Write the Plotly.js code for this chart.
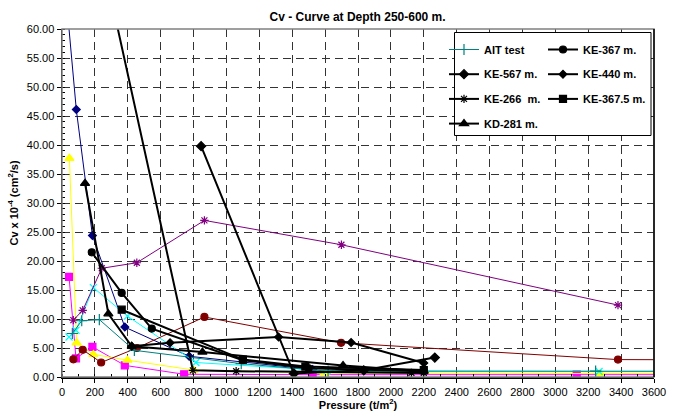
<!DOCTYPE html>
<html>
<head>
<meta charset="utf-8">
<script src="https://cdn.plot.ly/plotly-3.0.1.min.js"></script>
<style>html,body{margin:0;padding:0;background:#fff}#chart{width:676px;height:411px}</style>
</head>
<body>
<div id="chart"></div>
<script>
// ---- data ----
const navyX = [30, 87, 185, 382, 773, 1524];
const navyY = [64, 46.1, 24.4, 8.6, 3.57, 1.3];
const magentaX = [43, 85, 185, 382, 743, 1524, 3130, 6000];
const magentaY = [17.25, 3.2, 5.2, 2.0, 0.47, 0.4, 0.4, 0.4];
const yellowX = [45, 89, 191, 398, 800, 1597, 3272, 6000];
const yellowY = [37.7, 5.9, 3.9, 2.9, 1.2, 0.7, 0.6, 0.6];
const cyanX = [43, 85, 191, 398, 814, 1612, 3266, 6000];
const cyanY = [6.9, 8.06, 15.4, 10.5, 2.5, 1.1, 0.95, 0.95];
const purpleX = [69, 126, 242, 455, 866, 1699, 3381];
const purpleY = [9.8, 11.5, 18.75, 19.7, 27.0, 22.8, 12.4];
const darkredX = [69, 126, 238, 455, 866, 1697, 3381, 6000];
const darkredY = [3.05, 4.7, 2.5, 5.0, 10.35, 5.9, 3.0, 2.85];
const aitX = [63, 120, 227, 440, 1090, 1618, 3245, 6000];
const aitY = [7.5, 9.7, 9.9, 4.6, 2.3, 1.0, 1.0, 1.0];

const ke367X = [181, 363, 546, 1100, 1500, 2200];
const ke367Y = [21.5, 14.5, 8.35, 2.9, 1.5, 1.0];
const ke567X = [846, 1410, 1835, 2267];
const ke567Y = [39.8, 0.6, 1.15, 3.35];
const ke440X = [424, 657, 1317, 1758, 2200];
const ke440Y = [5.3, 5.9, 6.9, 5.95, 2.4];
const ke266X = [200, 796, 1059, 2125, 2200];
const ke266Y = [78, 1.15, 1.0, 0.7, 0.7];
const ke3675X = [363, 1100, 1480, 2200];
const ke3675Y = [11.6, 3.0, 1.8, 1.2];
const kd281X = [140, 282, 424, 854, 1709, 2200];
const kd281Y = [33.4, 10.9, 5.3, 4.3, 2.0, 1.0];

const seriesNames = ["AIT test", "KE-367 m.", "KE-567 m.", "KE-440 m.", "KE-266  m.", "KE-367.5 m.", "KD-281 m."];
const xTickVals = [0,200,400,600,800,1000,1200,1400,1600,1800,2000,2200,2400,2600,2800,3000,3200,3400,3600];

function colored(x, y, color, symbol, size) {
  return {x: x, y: y, type: 'scatter', mode: 'lines+markers', showlegend: false,
    line: {color: color, width: 1},
    marker: {symbol: symbol, size: size, color: color, line: {color: color, width: 1.2}}};
}
function black(x, y, name, symbol, size, legendId, group) {
  return {x: x, y: y, type: 'scatter', mode: 'lines+markers', name: name,
    legend: legendId, legendgroup: group,
    line: {color: '#000', width: 2},
    marker: {symbol: symbol, size: size, color: '#000', line: {color: '#000', width: 1.2}}};
}

const traces = [
  colored(navyX, navyY, '#000080', 'diamond', 6),
  colored(magentaX, magentaY, '#FF00FF', 'square', 7),
  colored(yellowX, yellowY, '#FFFF00', 'triangle-up', 8),
  colored(cyanX, cyanY, '#00FFFF', 'x-thin-open', 7),
  colored(purpleX, purpleY, '#800080', 'asterisk-open', 7),
  colored(darkredX, darkredY, '#800000', 'circle', 7),
  Object.assign(colored(aitX, aitY, '#008080', 'cross-thin-open', 8), {name: seriesNames[0], showlegend: true, legend: 'legend', legendgroup: 'g1'}),
  black(ke367X, ke367Y, seriesNames[1], 'circle', 7, 'legend2', 'h1'),
  black(ke567X, ke567Y, seriesNames[2], 'diamond', 7, 'legend', 'g2'),
  black(ke440X, ke440Y, seriesNames[3], 'diamond', 6, 'legend2', 'h2'),
  black(ke266X, ke266Y, seriesNames[4], 'asterisk-open', 7, 'legend', 'g3'),
  black(ke3675X, ke3675Y, seriesNames[5], 'square', 7, 'legend2', 'h3'),
  black(kd281X, kd281Y, seriesNames[6], 'triangle-up', 8, 'legend', 'g4')
];

const legendFont = {family: 'Arial, "Liberation Sans", sans-serif', size: 11, color: '#000', weight: 'bold'};
const layout = {
  width: 676, height: 411,
  margin: {l: 62, r: 22, t: 29, b: 34, pad: 0},
  paper_bgcolor: '#fff', plot_bgcolor: '#fff',
  font: {family: 'Arial, "Liberation Sans", sans-serif', size: 11, color: '#000'},
  title: {text: '<b>Cv - Curve at Depth 250-600 m.</b>', x: 0.529, xanchor: 'center', y: 0.96, yanchor: 'middle',
    font: {size: 12, color: '#000'}},
  xaxis: {
    range: [0, 3600], tickvals: xTickVals, ticktext: xTickVals.map(String),
    showgrid: true, gridcolor: '#333', griddash: '8px,5px', gridwidth: 1,
    showline: true, linecolor: '#000', linewidth: 1.5,
    ticks: 'outside', ticklen: 4, tickcolor: '#000',
    minor: {dtick: 100, ticks: 'inside', ticklen: 3, tickcolor: '#000', showgrid: false},
    zeroline: false,
    title: {text: '<b>Pressure (t/m<sup>2</sup>)</b>', standoff: 4, font: {size: 11}}
  },
  yaxis: {
    range: [0, 60], dtick: 5, tickformat: '.2f',
    showgrid: true, gridcolor: '#333', griddash: '8px,5px', gridwidth: 1,
    showline: true, linecolor: '#000', linewidth: 1.5,
    ticks: 'outside', ticklen: 4, tickcolor: '#000',
    minor: {dtick: 1, ticks: 'inside', ticklen: 3, tickcolor: '#000', showgrid: false},
    zeroline: false,
    title: {text: '<b>Cv x 10<sup>-4</sup> (cm<sup>2</sup>/s)</b>', standoff: 6, font: {size: 11}}
  },
  shapes: [
    {type: 'rect', xref: 'paper', yref: 'paper', x0: 0, x1: 1, y0: 0, y1: 1, layer: 'above',
      line: {color: '#808080', width: 1.5}, fillcolor: 'rgba(0,0,0,0)'},
    {type: 'line', xref: 'paper', yref: 'paper', x0: 1, x1: 1, y0: 0, y1: 1, layer: 'above',
      line: {color: '#000', width: 1.5}},
    {type: 'rect', xref: 'paper', yref: 'paper', x0: (454.5 - 62) / 592, x1: (651 - 62) / 592,
      y0: (377 - 135.5) / 348, y1: (377 - 32.5) / 348, layer: 'above',
      line: {color: '#000', width: 1}, fillcolor: '#fff'}
  ],
  legend: {x: (444 - 62) / 592, xanchor: 'left', y: (377 - 35) / 348, yanchor: 'top',
    bgcolor: 'rgba(0,0,0,0)', borderwidth: 0, font: legendFont, tracegroupgap: 5.7, traceorder: 'grouped'},
  legend2: {x: (543 - 62) / 592, xanchor: 'left', y: (377 - 35) / 348, yanchor: 'top',
    bgcolor: 'rgba(0,0,0,0)', borderwidth: 0, font: legendFont, tracegroupgap: 5.7, traceorder: 'grouped'}
};

Plotly.newPlot('chart', traces, layout, {displayModeBar: false, staticPlot: true});
</script>
</body>
</html>
